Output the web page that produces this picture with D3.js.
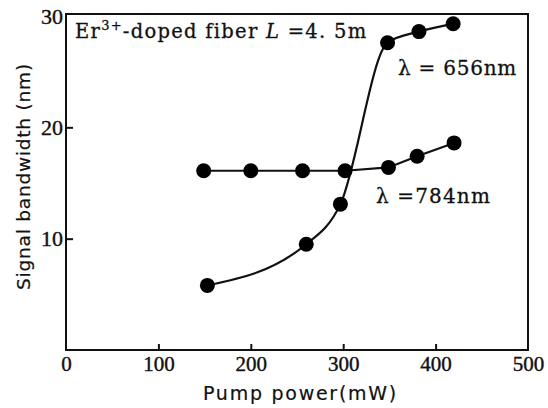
<!DOCTYPE html>
<html>
<head>
<meta charset="utf-8">
<script src="https://cdn.jsdelivr.net/npm/d3@7"></script>
<style>
  html, body { margin: 0; padding: 0; background: #fff; }
  svg { display: block; }
</style>
</head>
<body>
<svg id="chart" width="548" height="408"></svg>
<script>
// ---- data ----
const pump784 = [149, 200, 256, 302, 349, 380, 420];
const bw784   = [16.1, 16.1, 16.1, 16.1, 16.4, 17.4, 18.6];
const pump656 = [153, 260, 297, 348, 382, 419];
const bw656   = [5.8, 9.5, 13.1, 27.6, 28.6, 29.3];
const xTicks = [0, 100, 200, 300, 400, 500];
const yTicks = [10, 20, 30];
const labels = { x: "Pump power(mW)", y: "Signal bandwidth (nm)" };

const svg = d3.select("#chart");
const x = d3.scaleLinear().domain([0, 500]).range([66, 528]);
const y = d3.scaleLinear().domain([0, 30]).range([350, 16]);
const serif = "'DejaVu Serif', 'Liberation Serif', serif";
const ink = "#111";

// stretch a text element's letter spacing so it spans a target width
function fit(sel, target) {
  const node = sel.node();
  const n = node.textContent.length;
  const w = node.getComputedTextLength();
  sel.attr("letter-spacing", ((target - w) / n).toFixed(2));
  return sel;
}

// frame
svg.append("rect")
  .attr("x", x(0)).attr("y", 14)
  .attr("width", x(500) - x(0)).attr("height", y(0) - 14)
  .attr("fill", "none").attr("stroke", ink).attr("stroke-width", 2);

// x axis (inward ticks)
const xAxis = d3.axisBottom(x).tickValues(xTicks).tickSize(-6).tickPadding(8)
  .tickFormat(d3.format("d"));
const gx = svg.append("g").attr("transform", `translate(0,${y(0)})`).call(xAxis);
gx.select(".domain").remove();
gx.selectAll(".tick line").attr("stroke", ink).attr("stroke-width", 2)
  .filter(d => d === 0 || d === 500).remove();
gx.selectAll(".tick text")
  .attr("font-family", "'Liberation Serif', serif")
  .attr("font-size", 21).attr("fill", ink).attr("stroke", ink).attr("stroke-width", 0.4)
  .attr("dy", "0.62em");

// y axis
const yAxis = d3.axisLeft(y).tickValues(yTicks).tickSize(-7).tickPadding(3)
  .tickFormat(d3.format("d"));
const gy = svg.append("g").attr("transform", `translate(${x(0)},0)`).call(yAxis);
gy.select(".domain").remove();
gy.selectAll(".tick line").attr("stroke", ink).attr("stroke-width", 2)
  .filter(d => d === 30).remove();
gy.selectAll(".tick text")
  .attr("font-family", "'Liberation Serif', serif")
  .attr("font-size", 22).attr("fill", ink).attr("stroke", ink).attr("stroke-width", 0.4);

// axis titles
const tx = svg.append("text")
  .attr("x", 203).attr("y", 400)
  .attr("font-family", "'DejaVu Sans', sans-serif")
  .attr("font-size", 19).attr("fill", ink).attr("stroke", ink).attr("stroke-width", 0.2)
  .text(labels.x);
fit(tx, 195);
const ty = svg.append("text")
  .attr("transform", `translate(30,290) rotate(-90)`)
  .attr("font-family", "'DejaVu Sans', sans-serif")
  .attr("font-size", 18.5).attr("fill", ink).attr("stroke", ink).attr("stroke-width", 0.2)
  .text(labels.y);
fit(ty, 227);

// series
const d784 = pump784.map((p, i) => [p, bw784[i]]);
const d656 = pump656.map((p, i) => [p, bw656[i]]);

svg.append("path").datum(d784)
  .attr("d", d3.line().x(d => x(d[0])).y(d => y(d[1])).curve(d3.curveLinear))
  .attr("fill", "none").attr("stroke", ink).attr("stroke-width", 2.2);
svg.append("path").datum(d656)
  .attr("d", d3.line().x(d => x(d[0])).y(d => y(d[1])).curve(d3.curveMonotoneX))
  .attr("fill", "none").attr("stroke", ink).attr("stroke-width", 2.2);

svg.append("g").selectAll("circle").data(d784.concat(d656)).join("circle")
  .attr("cx", d => x(d[0])).attr("cy", d => y(d[1])).attr("r", 7.5)
  .attr("fill", "#000");

// annotations
const t1 = svg.append("text").attr("x", 75).attr("y", 38)
  .attr("font-family", serif).attr("font-size", 19.5).attr("fill", ink)
  .attr("stroke", ink).attr("stroke-width", 0.3);
t1.append("tspan").text("Er");
t1.append("tspan").attr("font-size", 13).attr("dy", -8).text("3+");
t1.append("tspan").attr("dy", 8).text("-doped fiber ");
t1.append("tspan").attr("font-style", "italic").text("L");
t1.append("tspan").text(" =4. 5m");
fit(t1, 292);

const t2 = svg.append("text").attr("x", 398).attr("y", 75)
  .attr("font-family", serif).attr("font-size", 20).attr("fill", ink)
  .attr("stroke", ink).attr("stroke-width", 0.3)
  .text("λ = 656nm");
fit(t2, 119);
const t3 = svg.append("text").attr("x", 376).attr("y", 203)
  .attr("font-family", serif).attr("font-size", 20).attr("fill", ink)
  .attr("stroke", ink).attr("stroke-width", 0.3)
  .text("λ =784nm");
fit(t3, 115);
</script>
</body>
</html>
